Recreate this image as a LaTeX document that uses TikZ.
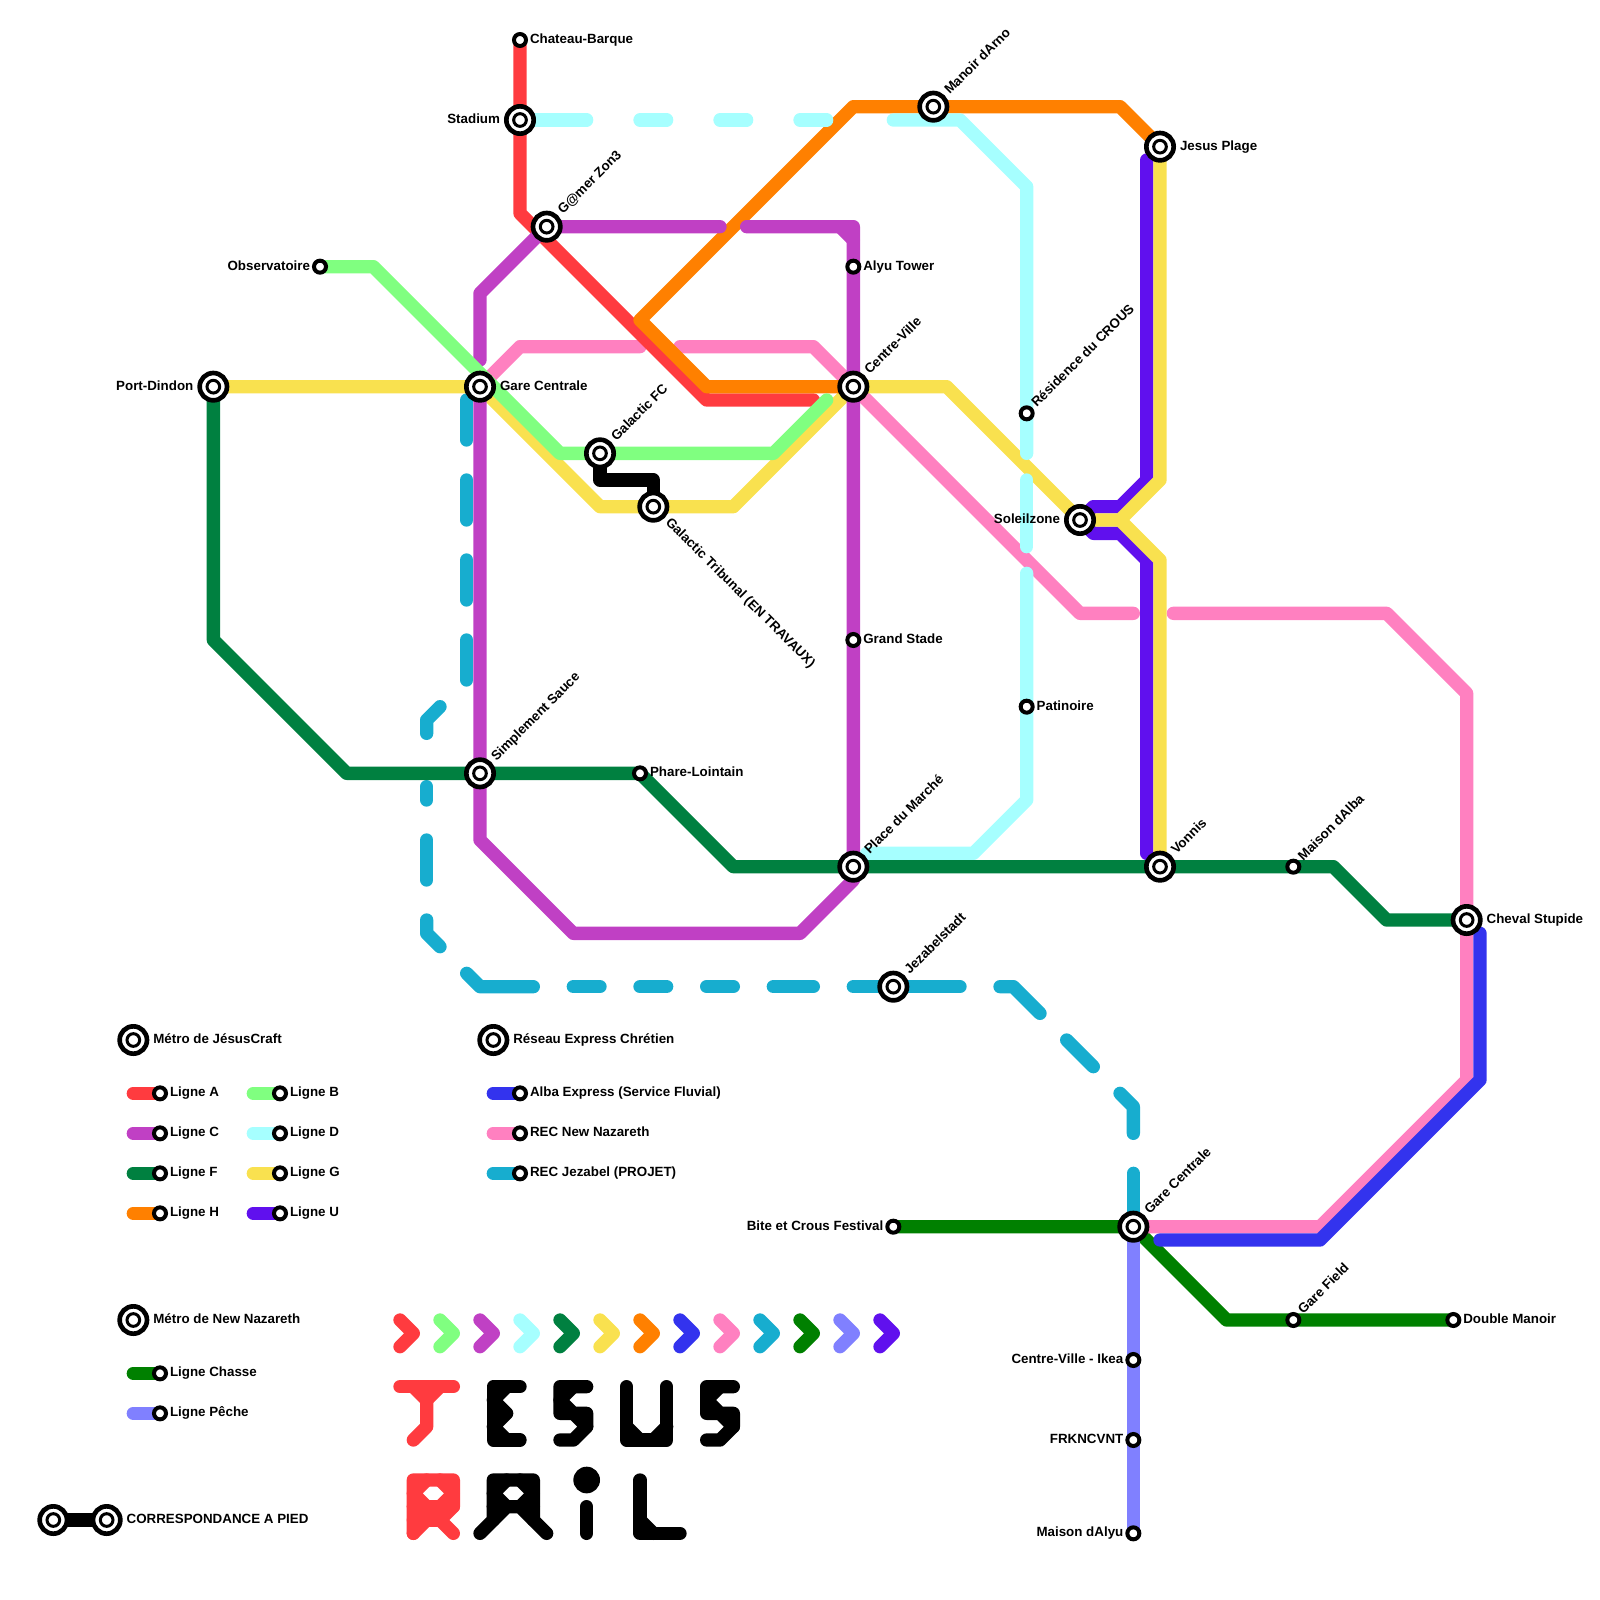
\documentclass[tikz,border=0pt]{standalone}
\usepackage{fontspec}
\setmainfont{Liberation Sans}
\usetikzlibrary{backgrounds}

\definecolor{lineA}{HTML}{FF3B3F}
\definecolor{lineB}{HTML}{80FF80}
\definecolor{lineC}{HTML}{C040C4}
\definecolor{lineD}{HTML}{A6FFFF}
\definecolor{lineF}{HTML}{008040}
\definecolor{lineG}{HTML}{F9E14F}
\definecolor{lineH}{HTML}{FF8000}
\definecolor{lineU}{HTML}{6010EE}
\definecolor{lineAlba}{HTML}{3333EE}
\definecolor{lineNaz}{HTML}{FF80C0}
\definecolor{lineJez}{HTML}{17ADCF}
\definecolor{lineChasse}{HTML}{008000}
\definecolor{linePeche}{HTML}{8080FF}

\tikzset{
	metro/.style={line width=0.4cm, line cap=round, line join=round},
	bigstop/.style={circle, draw=black, fill=white, line width=0.14cm, minimum size=0.82cm, inner sep=0pt, outer sep=0pt,
		path picture={\draw[line width=0.09cm] (path picture bounding box.center) circle (0.19cm);}},
	smallstop/.style={circle, draw=black, fill=white, line width=0.12cm, minimum size=0.36cm, inner sep=0pt, outer sep=0pt},
	stoptext/.style={font=\bfseries\fontsize{11.4}{13}\selectfont, inner sep=0pt, outer sep=0pt, text height=0.72em, text depth=0.15em},
	bigr/.style={stoptext, anchor=west, xshift=0.6cm},
	smallr/.style={stoptext, anchor=west, xshift=0.3cm},
	bigl/.style={stoptext, anchor=east, xshift=-0.6cm},
	smalll/.style={stoptext, anchor=east, xshift=-0.3cm},
	bigne/.style={stoptext, rotate=45, anchor=west, xshift=0.6cm},
	smallne/.style={stoptext, rotate=45, anchor=west, xshift=0.33cm},
	bigse/.style={stoptext, rotate=-45, anchor=west, xshift=0.6cm},
}

\begin{document}
\begin{tikzpicture}[x=0.4cm, y=-0.4cm]
	\useasboundingbox (0,0) rectangle (120,120);

	\node[smallstop] (chateau) at (39,3) {};
	\node[bigstop] (stadium) at (39,9) {};
	\node[bigstop] (gamer) at (41,17) {};
	\node[smallstop] (obs) at (24,20) {};
	\node[bigstop] (dindon) at (16,29) {};
	\node[bigstop] (gare) at (36,29) {};
	\node[bigstop] (galfc) at (45,34) {};
	\node[bigstop] (galtrib) at (49,38) {};
	\node[bigstop] (sauce) at (36,58) {};
	\node[smallstop] (phare) at (48,58) {};
	\node[bigstop] (manoir) at (70,8) {};
	\node[smallstop] (alyu) at (64,20) {};
	\node[bigstop] (centre) at (64,29) {};
	\node[smallstop] (stade) at (64,48) {};
	\node[bigstop] (marche) at (64,65) {};
	\node[smallstop] (crous) at (77,31) {};
	\node[smallstop] (patin) at (77,53) {};
	\node[bigstop] (soleil) at (81,39) {};
	\node[bigstop] (plage) at (87,11) {};
	\node[bigstop] (vonnis) at (87,65) {};
	\node[smallstop] (alba) at (97,65) {};
	\node[bigstop] (cheval) at (110,69) {};
	\node[bigstop] (jezabel) at (67,74) {};
	\node[smallstop] (bite) at (67,92) {};
	\node[bigstop] (garenaz) at (85,92) {};
	\node[smallstop] (field) at (97,99) {};
	\node[smallstop] (double) at (109,99) {};
	\node[smallstop] (ikea) at (85,102) {};
	\node[smallstop] (frk) at (85,108) {};
	\node[smallstop] (malyu) at (85,115) {};

	\node[smallr] (tchateau) at (chateau) {Chateau-Barque};
	\node[bigl] (tstadium) at (stadium) {Stadium};
	\node[bigne] (tgamer) at (gamer) {G@mer Zon3};
	\node[smalll] (tobs) at (obs) {Observatoire};
	\node[bigl] (tdindon) at (dindon) {Port-Dindon};
	\node[bigr] (tgare) at (gare) {Gare Centrale};
	\node[bigne] (tgalfc) at (galfc) {Galactic FC};
	\node[bigse] (tgaltrib) at (galtrib) {Galactic Tribunal (EN TRAVAUX)};
	\node[bigne] (tsauce) at (sauce) {Simplement Sauce};
	\node[smallr] (tphare) at (phare) {Phare-Lointain};
	\node[bigne] (tmanoir) at (manoir) {Manoir dArno};
	\node[smallr] (talyu) at (alyu) {Alyu Tower};
	\node[bigne] (tcentre) at (centre) {Centre-Ville};
	\node[smallr] (tstade) at (stade) {Grand Stade};
	\node[bigne] (tmarche) at (marche) {Place du Marché};
	\node[smallne] (tcrous) at (crous) {Résidence du CROUS};
	\node[smallr] (tpatin) at (patin) {Patinoire};
	\node[bigl] (tsoleil) at (soleil) {Soleilzone};
	\node[bigr] (tplage) at (plage) {Jesus Plage};
	\node[bigne] (tvonnis) at (vonnis) {Vonnis};
	\node[smallne] (talba) at (alba) {Maison dAlba};
	\node[bigr] (tcheval) at (cheval) {Cheval Stupide};
	\node[bigne] (tjezabel) at (jezabel) {Jezabelstadt};
	\node[smalll] (tbite) at (bite) {Bite et Crous Festival};
	\node[bigne] (tgarenaz) at (garenaz) {Gare Centrale};
	\node[smallne] (tfield) at (field) {Gare Field};
	\node[smallr] (tdouble) at (double) {Double Manoir};
	\node[smalll] (tikea) at (ikea) {Centre-Ville - Ikea};
	\node[smalll] (tfrk) at (frk) {FRKNCVNT};
	\node[smalll] (tmalyu) at (malyu) {Maison dAlyu};

	\node[bigstop] (legjesus) at (10,78) {};
	\node[bigstop] (legrec) at (37,78) {};
	\node[bigstop] (legnaz) at (10,99) {};
	\node[bigstop] (legwalka) at (4,114) {};
	\node[bigstop] (legwalkb) at (8,114) {};
	\node[bigr] (tlegjesus) at (legjesus) {Métro de JésusCraft};
	\node[bigr] (tlegrec) at (legrec) {Réseau Express Chrétien};
	\node[bigr] (tlegnaz) at (legnaz) {Métro de New Nazareth};
	\node[bigr] (tlegwalk) at (legwalkb) {CORRESPONDANCE A PIED};

	\foreach \i/\x/\y/\c/\t in {a/12/82/lineA/Ligne A, b/21/82/lineB/Ligne B, c/12/85/lineC/Ligne C, d/21/85/lineD/Ligne D,
		f/12/88/lineF/Ligne F, g/21/88/lineG/Ligne G, h/12/91/lineH/Ligne H, u/21/91/lineU/Ligne U,
		chasse/12/103/lineChasse/Ligne Chasse, peche/12/106/linePeche/Ligne Pêche,
		alba/39/82/lineAlba/Alba Express (Service Fluvial), naz/39/85/lineNaz/REC New Nazareth, jez/39/88/lineJez/REC Jezabel (PROJET)} {
		\node[smallstop] (leg\i) at (\x,\y) {};
		\node[smallr] (tleg\i) at (leg\i) {\t};
		\begin{pgfonlayer}{background}
			\draw[metro, \c] (\x-2,\y) -- (leg\i.center);
		\end{pgfonlayer}
	}

	\begin{pgfonlayer}{background}
		\draw[metro, lineChasse] (bite.center) -- (garenaz.center) -- (92,99) -- (double.center);
		\draw[metro, linePeche] (garenaz.center) -- (malyu.center);
		\draw[metro, lineNaz] (gare.center) -- (39,26) -- (48,26);
		\draw[metro, lineNaz] (51,26) -- (61,26) -- (centre.center) -- (81,46) -- (85,46);
		\draw[metro, lineNaz] (88,46) -- (104,46) -- (110,52) -- (110,81) -- (99,92) -- (garenaz.center);
		\draw[metro, lineAlba] (111,70) -- (111,81) -- (99,93) -- (87,93);
		\draw[metro, lineJez] (35,30) -- (35,33);
		\draw[metro, lineJez] (35,36) -- (35,39);
		\draw[metro, lineJez] (35,42) -- (35,45);
		\draw[metro, lineJez] (35,48) -- (35,51);
		\draw[metro, lineJez] (33,53) -- (32,54) -- (32,55);
		\draw[metro, lineJez] (32,59) -- (32,60);
		\draw[metro, lineJez] (32,63) -- (32,66);
		\draw[metro, lineJez] (32,69) -- (32,70) -- (33,71);
		\draw[metro, lineJez] (35,73) -- (36,74) -- (40,74);
		\draw[metro, lineJez] (43,74) -- (45,74);
		\draw[metro, lineJez] (48,74) -- (50,74);
		\draw[metro, lineJez] (53,74) -- (55,74);
		\draw[metro, lineJez] (58,74) -- (61,74);
		\draw[metro, lineJez] (64,74) -- (72,74);
		\draw[metro, lineJez] (75,74) -- (76,74) -- (78,76);
		\draw[metro, lineJez] (80,78) -- (82,80);
		\draw[metro, lineJez] (84,82) -- (85,83) -- (85,85);
		\draw[metro, lineJez] (85,88) -- (garenaz.center);
		\draw[metro, lineU] (86,12) -- (86,36) -- (84,38) -- (82,38) -- (soleil.center) -- (82,40) -- (84,40) -- (86,42) -- (86,64);
		\draw[metro, lineG] (dindon.center) -- (gare.center) -- (45,38) -- (55,38) -- (centre.center) -- (71,29) -- (soleil.center) -- (84,39) -- (87,36) -- (plage.center);
		\draw[metro, lineG] (84,39) -- (87,42) -- (vonnis.center);
		\draw[metro, lineA] (chateau.center) -- (39,16) -- (53,30) -- (61,30);
		\draw[metro, lineH] (centre.center) -- (53,29) -- (48,24) -- (64,8) -- (84,8) -- (plage.center);
		\draw[metro, lineC] (54,17) -- (gamer.center) -- (36,22) -- (36,27);
		\draw[metro, lineC] (gare.center) -- (36,63) -- (43,70) -- (60,70) -- (64,66) -- (marche.center) -- (64,17) -- (56,17);
		\draw[metro, lineC] (63,17) -- (64,18);
		\draw[metro, lineB] (obs.center) -- (28,20) -- (42,34) -- (58,34) -- (62,30);
		\draw[metro, lineD] (stadium.center) -- (44,9);
		\draw[metro, lineD] (48,9) -- (50,9);
		\draw[metro, lineD] (54,9) -- (56,9);
		\draw[metro, lineD] (60,9) -- (62,9);
		\draw[metro, lineD] (67,9) -- (72,9) -- (77,14) -- (77,34);
		\draw[metro, lineD] (77,36) -- (77,41);
		\draw[metro, lineD] (77,43) -- (77,60) -- (73,64) -- (65,64);
		\draw[metro, lineF] (dindon.center) -- (16,48) -- (26,58) -- (phare.center) -- (55,65) -- (100,65) -- (104,69) -- (cheval.center);
		\draw[metro, black] (galfc.center) -- (45,36) -- (49,36) -- (galtrib.center);
		\draw[metro, black] (legwalka.center) -- (legwalkb.center);
	\end{pgfonlayer}

	\foreach \x/\c in {30/lineA, 33/lineB, 36/lineC, 39/lineD, 42/lineF, 45/lineG, 48/lineH, 51/lineAlba, 54/lineNaz, 57/lineJez, 60/lineChasse, 63/linePeche, 66/lineU} {
		\draw[metro, \c] (\x,99) -- (\x+1,100) -- (\x,101);
	}

	\draw[metro, lineA] (30,104) -- (34,104);
	\draw[metro, lineA] (31,104) -- (32,105) -- (33,104);
	\draw[metro, lineA] (32,105) -- (32,107) -- (31,108);
	\foreach \x in {37} {
		\draw[metro] (\x+2,104) -- (\x,104) -- (\x,108) -- (\x+2,108);
		\draw[metro] (\x+1,104) -- (\x,105) -- (\x+1,106) -- (\x,107) -- (\x+1,108);
	}
	\foreach \x in {42,53} {
		\draw[metro] (\x+2,104) -- (\x,104) -- (\x,106) -- (\x+1,106) -- (\x+2,107) -- (\x+1,108) -- (\x,108);
		\draw[metro] (\x+1,104) -- (\x,105) -- (\x+1,106) -- (\x+2,106) -- (\x+2,107);
	}
	\draw[metro] (47,104) -- (47,108) -- (50,108) -- (50,104);
	\draw[metro] (47,107) -- (48,108);
	\draw[metro] (49,108) -- (50,107);

	\draw[metro, lineA] (31,115) -- (31,111) -- (34,111) -- (34,113) -- (33,114) -- (34,115);
	\draw[metro, lineA] (31,115) -- (32,114) -- (33,114);
	\draw[metro, lineA] (31,113) -- (34,113);
	\draw[metro, lineA] (31,114) -- (33,114);
	\draw[metro, lineA] (32,111) -- (31,112) -- (32,113);
	\draw[metro, lineA] (33,111) -- (34,112) -- (33,113);
	\draw[metro] (36,115) -- (37,114) -- (37,111) -- (40,111) -- (40,114) -- (41,115);
	\draw[metro] (37,114) -- (38,113) -- (39,113) -- (40,114);
	\draw[metro] (37,113) -- (40,113);
	\draw[metro] (38,111) -- (37,112) -- (38,113);
	\draw[metro] (39,111) -- (40,112) -- (39,113);
	\fill (44,111) circle (0.4cm);
	\draw[metro] (44,113) -- (44,115);
	\draw[metro] (48,111) -- (48,115) -- (51,115);
	\draw[metro] (48,114) -- (49,115);
\end{tikzpicture}
\end{document}
